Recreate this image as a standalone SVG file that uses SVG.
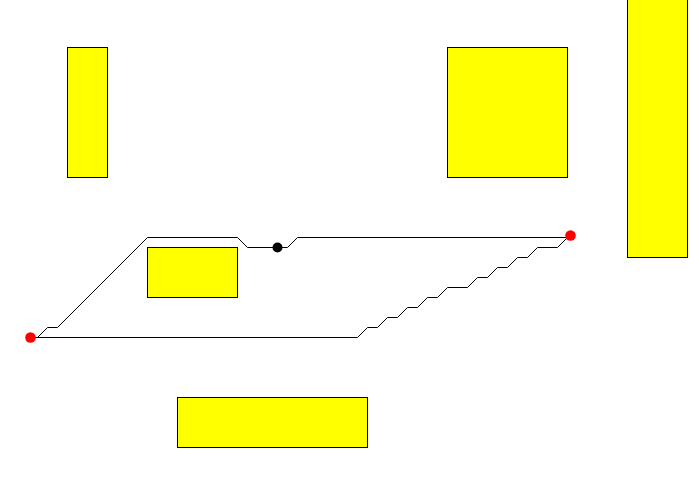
<svg xmlns="http://www.w3.org/2000/svg" width="699" height="498" viewBox="0 0 699 498">
<style>
.box{fill:#ffff00;stroke:#000;stroke-width:1}
.wire{fill:none;stroke:#000;stroke-width:1}
</style>
<rect width="699" height="498" fill="#fff"/>
<g id="node-a"><rect class="box" x="67.5" y="47.5" width="40" height="130"/></g>
<g id="node-b"><rect class="box" x="447.5" y="47.5" width="120" height="130"/></g>
<g id="node-c"><rect class="box" x="627.5" y="-3.5" width="60" height="261"/></g>
<g id="node-d"><rect class="box" x="147.5" y="247.5" width="90" height="50"/></g>
<g id="node-e"><rect class="box" x="177.5" y="397.5" width="190" height="50"/></g>
<g id="connectors">
<path class="wire" d="M30 337.5 H37.5 L47.5 327.5 H57.5 L147.5 237.5 H237.5 L247.5 247.5 H287.5 L297.5 237.5 H567.5"/>
<path class="wire" d="M567.5 237.5 L557.5 247.5 H537.5 L527.5 257.5 H517.5 L507.5 267.5 H497.5 L487.5 277.5 H477.5 L467.5 287.5 H447.5 L437.5 297.5 H427.5 L417.5 307.5 H407.5 L397.5 317.5 H387.5 L377.5 327.5 H367.5 L357.5 337.5 H30"/>
</g>
<g id="points">
<circle cx="30.5" cy="337.5" r="5.3" fill="#ff0000"/>
<circle cx="570.5" cy="235.5" r="5.3" fill="#ff0000"/>
<circle cx="277.5" cy="247.5" r="5" fill="#000"/>
</g>
</svg>
